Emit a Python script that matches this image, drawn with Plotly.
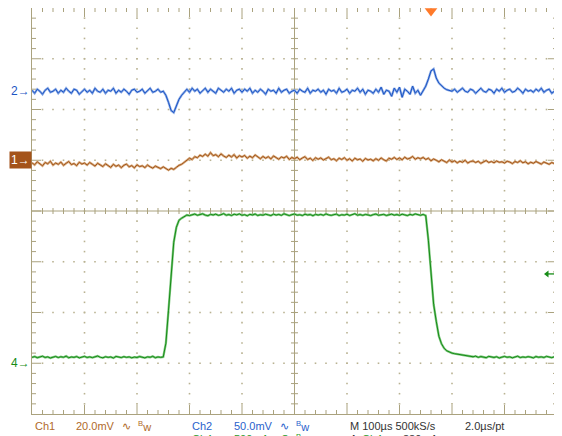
import numpy as np
import plotly.graph_objects as go

# ---------------- data ----------------
# time axis: 100 us/div, 10 divisions, sampled every 5 us
time_us = np.arange(0, 1001, 5)

# Ch2 (blue), mV relative to its ground marker
ch2_mV = [
    1, -2, 2, 0, -3, 1, 3, -1, 0, 2,
    -2, 1, -1, 3, 0, -2, 2, 1, -3, 0,
    2, -1, 1, -2, 3, 0, -1, 2, -2, 1,
    0, 3, -2, 1, -1, 2, 0, -3, 1, 2,
    -1, 0, 2, -2, 1, 3, -1, 0, 2, -1,
    0, -4, -11, -19, -21, -14, -8, -4, -1, 2,
    -1, 3, 0, 2, -2, 1, 3, -1, 2, 0,
    -2, 3, 1, -1, 2, 0, 3, -2, 1, 2,
    -1, 2, 0, 3, -2, 1, -1, 2, 0, -3,
    2, 0, 1, -2, 3, -1, 1, 2, -2, 0,
    1, -2, 2, 0, -1, 3, -2, 1, 0, 2,
    -1, 1, -3, 2, 0, 1, -2, 3, -1, 0,
    2, -2, 1, 0, 3, -1, 2, -3, 1, 0,
    -2, 2, -1, 4, -3, 1, 0, -5, 3, -1,
    4, -6, 2, 0, -3, 5, -2, 1, -4, 1,
    5, 12, 20, 22, 13, 8, 5, 3, 1.5, 1,
    0, 2, -1, 1, 3, 0, -1, 2, 1, -2,
    1, 3, 0, -1, 2, 1, -2, 2, 0, 3,
    -1, 1, 2, -1, 0, 3, 1, -2, 2, 0,
    1, -1, 2, 0, 3, -1, 1, 2, -2, 0, 1,
]

# Ch1 (brown), mV relative to its ground marker
ch1_mV = [
    -1.0, -1.8, -0.6, -1.5, -2.2, -0.9, -1.4, -0.4, -1.9, -1.1,
    -1.6, -0.7, -2.0, -1.2, -0.5, -1.7, -1.3, -2.1, -0.8, -1.5,
    -1.1, -1.9, -0.9, -1.6, -2.3, -1.2, -1.8, -2.5, -1.4, -2.2,
    -2.8, -1.6, -2.4, -1.9, -2.9, -2.0, -1.5, -2.6, -2.1, -3.0,
    -1.8, -2.5, -2.2, -2.9, -1.9, -2.6, -3.1, -2.3, -2.8, -3.3,
    -2.6, -3.4, -3.9, -3.2, -3.6, -2.8, -2.0, -1.6, -0.9, -0.2,
    0.8, 0.3, 1.4, 1.0, 2.0, 1.5, 2.4, 1.6, 3.0, 1.8,
    2.2, 1.4, 2.5, 1.7, 1.1, 2.0, 1.3, 2.2, 0.9, 1.8,
    1.3, 1.9, 0.8, 1.6, 1.0, 2.1, 1.2, 0.6, 1.5, 0.8,
    1.4, 0.5, 1.7, 1.0, 0.4, 1.3, 0.9, 1.6, 0.3, 1.1,
    0.6, 1.2, 0.2, 0.9, 1.4, 0.3, 0.8, -0.1, 1.0, 0.4,
    0.9, 0.1, 0.7, 1.2, 0.2, 0.6, -0.2, 0.8, 0.3, 1.0,
    0.0, 0.6, -0.3, 0.8, 0.2, 0.5, -0.4, 0.7, 0.1, 0.4,
    -0.2, 0.6, 0.0, 0.9, 0.2, -0.3, 0.8, 0.4, 1.1, 0.3,
    0.9, 0.2, 1.2, 0.5, 0.8, 1.5, 0.4, 1.0, 0.6, 1.1,
    0.3, 0.8, -0.2, 0.5, 0.0, -0.6, 0.2, -0.4, -0.9, 0.1,
    -0.7, -0.2, -1.0, -0.4, -0.8, 0.0, -1.1, -0.5, -0.3, -0.9,
    -0.4, -1.2, -0.6, -0.1, -0.9, -0.5, -1.0, -0.3, -0.8, -0.6,
    -1.1, -0.4, -0.7, -1.3, -0.5, -0.9, -0.2, -1.0, -0.6, -1.4,
    -0.8, -1.2, -0.5, -1.0, -1.5, -0.7, -1.1, -1.6, -0.9, -1.3, -1.0,
]

# Ch4 (green), mA relative to its ground marker
ch4_mA = [
    58, 66, 55, 62, 69, 57, 63, 52, 61, 67,
    56, 64, 59, 70, 54, 62, 58, 66, 53, 61,
    68, 57, 63, 55, 60, 71, 59, 54, 64, 58,
    62, 52, 67, 60, 56, 65, 58, 63, 54, 61,
    57, 66, 60, 53, 63, 59, 68, 55, 62, 58,
    62, 197, 522, 877, 1192, 1340, 1409, 1429, 1448, 1460,
    1455, 1466, 1470, 1458, 1463, 1472, 1460, 1454, 1467, 1461,
    1469, 1457, 1463, 1474, 1459, 1465, 1456, 1468, 1462, 1471,
    1458, 1464, 1453, 1467, 1461, 1470, 1456, 1463, 1459, 1468,
    1462, 1455, 1469, 1460, 1466, 1457, 1472, 1461, 1455, 1464,
    1470, 1459, 1463, 1456, 1468, 1461, 1465, 1454, 1467, 1460,
    1466, 1458, 1471, 1462, 1457, 1464, 1469, 1455, 1463, 1460,
    1468, 1456, 1462, 1473, 1459, 1465, 1457, 1466, 1461, 1455,
    1464, 1470, 1458, 1463, 1467, 1456, 1461, 1469, 1459, 1465,
    1457, 1468, 1462, 1455, 1466, 1460, 1471, 1463, 1458, 1466,
    1455, 1212, 906, 581, 414, 266, 192, 148, 123, 110,
    100, 94, 89, 84, 79, 74, 69, 67, 64, 70,
    58, 66, 61, 55, 68, 62, 57, 64, 52, 60,
    67, 59, 63, 54, 61, 69, 56, 62, 58, 65,
    60, 53, 66, 59, 63, 57, 68, 61, 55, 64, 60,
]

# channel settings
ch1_scale_mV, ch2_scale_mV, ch4_scale_mA = 20.0, 50.0, 500.0
ch1_pos_div, ch2_pos_div, ch4_pos_div = 1.0, 2.36, -3.0
trig_level_mA = 880
trig_time_us = 760

# readout texts
row1_texts = ["Ch1", "20.0mV", "∿", "<sup>B</sup>w", "Ch2", "50.0mV", "∿", "<sup>B</sup>w",
              "M 100µs 500kS/s", "2.0µs/pt"]
row2_texts = ["Ch4", "500mA", "Ω", "<sup>B</sup>w", "A", "Ch4", "↗", "880mA"]

# ---------------- layout geometry / styles ----------------
# the page body has an 8 px margin, so the figure starts at (8, 8) in the window
OFF = 8
W, H = 554, 428
ML, MR, MT, MB = 24, 5, 0, 22
PW, PH = W - ML - MR, H - MT - MB
US_PER_PX = 1000.0 / PW
DIV_PER_PX = 8.0 / PH

GRID = "#aaa27e"
DOT = "#b9b292"
C1, C1L = "#a2561c", "#d8ac80"
C2, C2L = "#1c55c4", "#8aaae6"
C4, C4L = "#168c16", "#80c880"
T1, T2, T4, TK = "#b06a2a", "#2a62cc", "#2a9a2a", "#333333"
FONT = "Liberation Sans, Arial, sans-serif"

fig = go.Figure()

# graticule dots
dx, dy = [], []
for xv in range(100, 1000, 100):
    if xv == 500:
        continue
    for j in range(1, 40):
        dx.append(xv); dy.append(-4 + 0.2 * j)
for yv in [-3, -2, -1, 1, 2, 3]:
    for j in range(1, 50):
        dx.append(20 * j); dy.append(yv)
fig.add_trace(go.Scatter(x=dx, y=dy, mode="markers", hoverinfo="skip",
                         marker=dict(symbol="square", size=1.6, color=DOT, line=dict(width=0))))

# ticks on border and centre lines
gx, gy = [], []
def seg(x0, y0, x1, y1):
    gx.extend([x0, x1, None]); gy.extend([y0, y1, None])

for xv in range(20, 1000, 20):
    L = (9 if xv % 100 == 0 else 4) * DIV_PER_PX
    seg(xv, 4, xv, 4 - L)
    seg(xv, -4, xv, -4 + L)
    c = 3 * DIV_PER_PX
    seg(xv, -c, xv, c)
for j in range(1, 40):
    yv = -4 + 0.2 * j
    L = (9 if j % 5 == 0 else 4) * US_PER_PX
    seg(0, yv, L, yv)
    seg(1000, yv, 1000 - L, yv)
    c = 3.5 * US_PER_PX
    seg(500 - c, yv, 500 + c, yv)
seg(0, 0, 1000, 0)
seg(500, -4, 500, 4)
fig.add_trace(go.Scatter(x=gx, y=gy, mode="lines", hoverinfo="skip",
                         line=dict(color=GRID, width=1)))

# waveforms
def add_wave(vals, scale, pos, dark, light):
    y = [pos + v / scale for v in vals]
    fig.add_trace(go.Scatter(x=time_us, y=y, mode="lines", hoverinfo="skip",
                             line=dict(color=light, width=2.3)))
    fig.add_trace(go.Scatter(x=time_us, y=y, mode="lines", hoverinfo="skip",
                             line=dict(color=dark, width=1.0)))

add_wave(ch4_mA, ch4_scale_mA, ch4_pos_div, C4, C4L)
add_wave(ch1_mV, ch1_scale_mV, ch1_pos_div, C1, C1L)
add_wave(ch2_mV, ch2_scale_mV, ch2_pos_div, C2, C2L)

# trigger position marker
fig.add_trace(go.Scatter(x=[trig_time_us], y=[4 - 3 * DIV_PER_PX], mode="markers",
                         hoverinfo="skip", cliponaxis=False,
                         marker=dict(symbol="triangle-down", size=11, color="#ff7a2a",
                                     line=dict(width=0))))

# trigger level marker on the right border: short shaft + left-pointing head
trig_y = ch4_pos_div + trig_level_mA / ch4_scale_mA
fig.add_trace(go.Scatter(x=[1000 - 10 * US_PER_PX, 1000], y=[trig_y, trig_y], mode="lines",
                         hoverinfo="skip", cliponaxis=False, line=dict(color=C4, width=1.3)))
fig.add_trace(go.Scatter(x=[1000 - 10 * US_PER_PX], y=[trig_y], mode="markers",
                         hoverinfo="skip", cliponaxis=False,
                         marker=dict(symbol="triangle-left", size=6, color=C4, line=dict(width=0))))

ann = []
# channel ground markers
ann.append(dict(x=0, xref="paper", y=ch2_pos_div, yref="y", text="2→", showarrow=False,
                xanchor="right", yanchor="middle", font=dict(family=FONT, size=12, color=C2)))
ann.append(dict(x=0, xref="paper", y=ch4_pos_div, yref="y", text="4→", showarrow=False,
                xanchor="right", yanchor="middle", font=dict(family=FONT, size=12, color=C4)))
ann.append(dict(x=0, xref="paper", y=ch1_pos_div, yref="y", text="1→", showarrow=False,
                xanchor="right", yanchor="middle", bgcolor="#a4531a", borderpad=1,
                font=dict(family=FONT, size=12, color="white")))

# positions below are window pixels
row1_x = [33, 74, 120, 136, 190, 232, 278, 294, 348, 463]
row1_c = [T1, T1, T1, T1, T2, T2, T2, T2, TK, TK]
row2_x = [190, 232, 279, 294, 348, 360, 387, 401]
row2_c = [T4, T4, T4, T4, TK, T4, TK, TK]
plot_left, plot_bottom = OFF + ML, OFF + MT + PH
for txt, px, col in zip(row1_texts, row1_x, row1_c):
    ann.append(dict(x=(px - plot_left) / PW, xref="paper", y=(plot_bottom - 425.5) / PH, yref="paper",
                    text=txt, showarrow=False, xanchor="left", yanchor="middle",
                    font=dict(family=FONT, size=11, color=col)))
for txt, px, col in zip(row2_texts, row2_x, row2_c):
    ann.append(dict(x=(px - plot_left) / PW, xref="paper", y=(plot_bottom - 438.5) / PH, yref="paper",
                    text=txt, showarrow=False, xanchor="left", yanchor="middle",
                    font=dict(family=FONT, size=11, color=col)))

fig.update_layout(
    width=W, height=H, margin=dict(l=ML, r=MR, t=MT, b=MB),
    paper_bgcolor="white", plot_bgcolor="white", showlegend=False,
    annotations=ann,
    xaxis=dict(range=[0, 1000], showgrid=False, zeroline=False, showticklabels=False,
               ticks="", showline=True, mirror=True, linecolor=GRID, linewidth=1, fixedrange=True),
    yaxis=dict(range=[-4, 4], showgrid=False, zeroline=False, showticklabels=False,
               ticks="", showline=True, mirror=True, linecolor=GRID, linewidth=1, fixedrange=True),
)

fig.write_html("out.html")
